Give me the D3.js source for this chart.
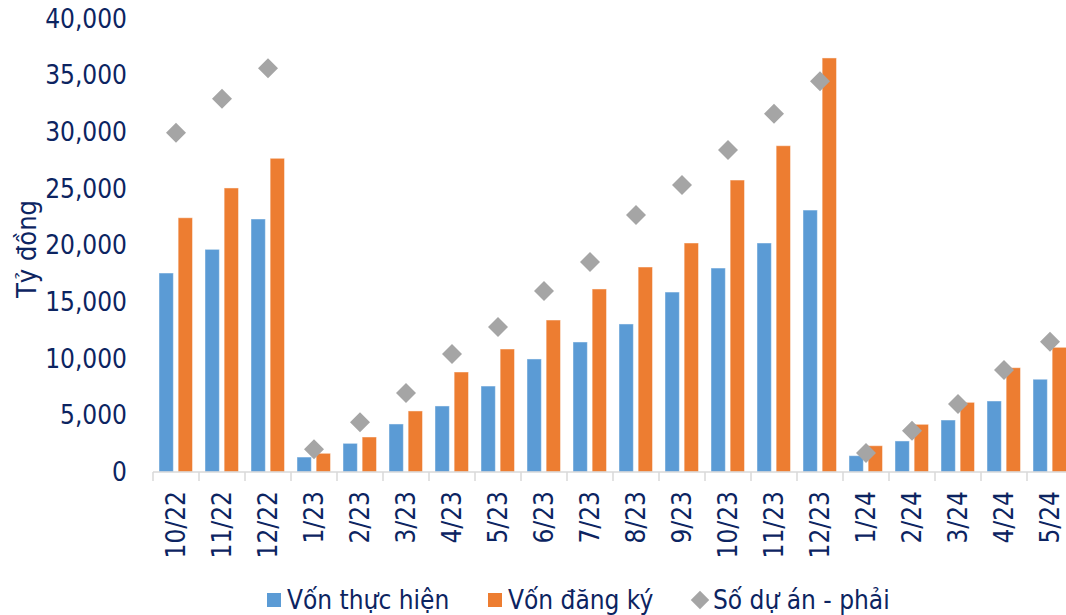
<!DOCTYPE html>
<html>
<head>
<meta charset="utf-8">
<script src="https://cdn.jsdelivr.net/npm/d3@7"></script>
<style>
  html, body { margin: 0; padding: 0; background: #fff; }
  svg { display: block; font-family: 'DejaVu Sans Condensed', 'DejaVu Sans', sans-serif; font-stretch: condensed; }
</style>
</head>
<body>
<svg id="chart" width="1066" height="615"></svg>
<script>
// Monthly FDI capital (billion VND) and cumulative project count
const months = ["10/22", "11/22", "12/22", "1/23", "2/23", "3/23", "4/23", "5/23", "6/23", "7/23",
                "8/23", "9/23", "10/23", "11/23", "12/23", "1/24", "2/24", "3/24", "4/24", "5/24"];
const vonThucHien = [17570, 19660, 22340, 1320, 2530, 4240, 5830, 7590, 9980, 11480,
                     13070, 15890, 18010, 20220, 23130, 1440, 2740, 4590, 6270, 8190];
const vonDangKy = [22450, 25080, 27700, 1650, 3090, 5390, 8830, 10860, 13420, 16160,
                   18100, 20220, 25780, 28810, 36560, 2320, 4210, 6150, 9210, 11010];
// Number of projects, plotted against the secondary (right) scale
const soDuAn = [2996, 3296, 3565, 200, 440, 698, 1042, 1280, 1598, 1854,
                2269, 2534, 2843, 3164, 3450, 168, 365, 600, 901, 1151];
const leftTicks = [0, 5000, 10000, 15000, 20000, 25000, 30000, 35000, 40000];
const seriesNames = ["Vốn thực hiện", "Vốn đăng ký", "Số dự án - phải"];

const navy = "#0c2461";
const blue = "#5b9bd5", orange = "#ed7d31", gray = "#a5a5a5";
const fontStack = "'DejaVu Sans Condensed', 'DejaVu Sans', sans-serif";

const svg = d3.select("#chart");
const plot = { left: 153, right: 1073, top: 19, bottom: 472 };

const x = d3.scaleBand().domain(months).range([plot.left, plot.right]).padding(0);
const xInner = d3.scaleBand().domain(["th", "dk"]).range([6, x.bandwidth() - 6.5]).paddingInner(0.25);
const y = d3.scaleLinear().domain([0, 40000]).range([plot.bottom, plot.top]);
const yRight = d3.scaleLinear().domain([0, 4000]).range([plot.bottom, plot.top]);

// Left axis labels
const yAxis = d3.axisLeft(y).tickValues(leftTicks).tickSize(0).tickPadding(26)
  .tickFormat(d3.format(","));
const gy = svg.append("g").attr("transform", `translate(${plot.left},0)`).call(yAxis);
gy.select(".domain").remove();
gy.selectAll("text").attr("fill", navy).style("font-size", "26px").style("font-family", fontStack);

// Axis title
svg.append("text")
  .attr("transform", "translate(36,249) rotate(-90)")
  .attr("text-anchor", "middle")
  .attr("fill", navy)
  .style("font-size", "27px")
  .text("Tỷ đồng");

// Bars
const groups = svg.append("g").selectAll("g").data(months).join("g")
  .attr("transform", d => `translate(${x(d)},0)`);

groups.append("rect")
  .attr("x", xInner("th"))
  .attr("width", xInner.bandwidth())
  .attr("y", (d, i) => y(vonThucHien[i]))
  .attr("height", (d, i) => y(0) - y(vonThucHien[i]))
  .attr("fill", blue)
  .attr("stroke", "#fff").attr("stroke-opacity", 0.45).attr("stroke-width", 1);

groups.append("rect")
  .attr("x", xInner("dk"))
  .attr("width", xInner.bandwidth())
  .attr("y", (d, i) => y(vonDangKy[i]))
  .attr("height", (d, i) => y(0) - y(vonDangKy[i]))
  .attr("fill", orange)
  .attr("stroke", "#fff").attr("stroke-opacity", 0.45).attr("stroke-width", 1);

// Category axis
const xAxis = d3.axisBottom(x).tickSize(0).tickPadding(0);
const gx = svg.append("g").attr("transform", `translate(0,${plot.bottom})`).call(xAxis);
gx.select(".domain").attr("stroke", "#d9d9d9").attr("stroke-width", 1.5)
  .attr("d", `M${plot.left},0H${plot.right}`);
gx.selectAll(".tick line").remove();
gx.selectAll(".tick text")
  .attr("fill", navy)
  .style("font-size", "26px")
  .style("font-family", fontStack)
  .attr("text-anchor", "end")
  .attr("transform", "rotate(-90)")
  .attr("x", -19)
  .attr("y", 0)
  .attr("dy", "0.36em");
// Tick marks between categories
svg.append("g").selectAll("line").data(months).join("line")
  .attr("x1", d => x(d)).attr("x2", d => x(d))
  .attr("y1", plot.bottom).attr("y2", plot.bottom + 9)
  .attr("stroke", "#d9d9d9").attr("stroke-width", 1.5);

// Project-count markers
const diamond = d3.symbol().type(d3.symbolSquare).size(200);
svg.append("g").selectAll("path").data(months).join("path")
  .attr("d", diamond)
  .attr("transform", (d, i) => `translate(${x(d) + x.bandwidth() / 2},${yRight(soDuAn[i])}) rotate(45)`)
  .attr("fill", gray);

// Legend
const legend = svg.append("g").style("font-size", "26px");
const legendY = 600;
legend.append("rect").attr("x", 267).attr("y", legendY - 7).attr("width", 14).attr("height", 14).attr("fill", blue);
legend.append("text").attr("x", 287).attr("y", legendY + 8.5).attr("fill", navy).text(seriesNames[0]);
legend.append("rect").attr("x", 488).attr("y", legendY - 7).attr("width", 14).attr("height", 14).attr("fill", orange);
legend.append("text").attr("x", 508).attr("y", legendY + 8.5).attr("fill", navy).text(seriesNames[1]);
legend.append("path").attr("d", d3.symbol().type(d3.symbolSquare).size(170))
  .attr("transform", `translate(700,${legendY}) rotate(45)`).attr("fill", gray);
legend.append("text").attr("x", 713).attr("y", legendY + 8.5).attr("fill", navy).text(seriesNames[2]);
</script>
</body>
</html>
